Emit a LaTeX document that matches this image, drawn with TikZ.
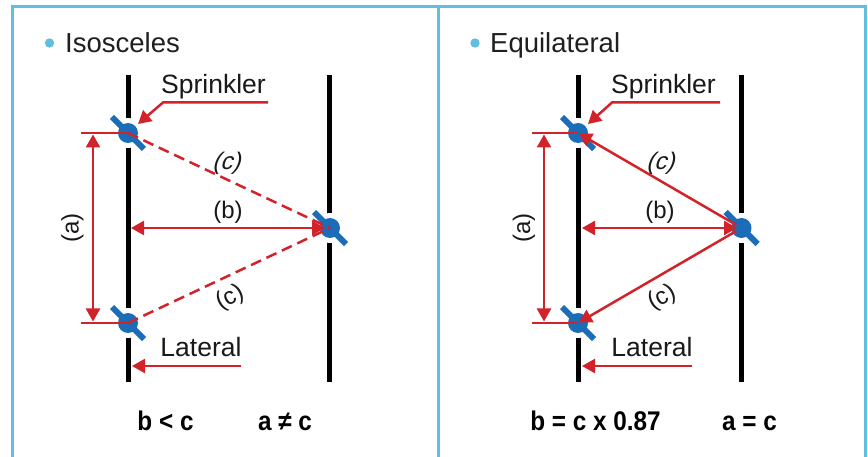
\documentclass[tikz,border=0pt]{standalone}
\usepackage{fontspec}
\setmainfont{Liberation Sans}
\usetikzlibrary{arrows.meta,calc}
\definecolor{fr}{HTML}{62BEDF}
\definecolor{rd}{HTML}{D2232A}
\definecolor{bl}{HTML}{1B6DB8}
\begin{document}
\begin{tikzpicture}[x=1pt,y=-1pt,
  frame/.style={fr,line width=3pt},
  pipe/.style={black,line width=5pt},
  redl/.style={rd,line width=2.5pt,line join=miter},
  tipr/.style={-{Triangle[length=13pt,width=14pt]}},
  tipb/.style={{Triangle[length=13pt,width=14pt]}-{Triangle[length=13pt,width=14pt]}},
  dsh/.style={dash pattern=on 11pt off 6pt},
  title/.style={font=\fontsize{27.5}{30}\selectfont,text=black!88,inner sep=0pt},
  lbl/.style={font=\fontsize{26.5}{30}\selectfont,text=black!90,inner sep=0pt},
  dim/.style={font=\fontsize{24}{28}\selectfont,text=black!90,inner sep=0pt},
  eqn/.style={font=\fontsize{27}{30}\selectfont\bfseries,text=black,inner sep=0pt},
  sprk/.pic={
    \fill[white] (0,0) circle (15);
    \draw[bl,line width=6pt] (-16,-16) -- (16,16);
    \fill[bl] (0,0) circle (10);
  }]
\useasboundingbox (0,0) rectangle (868,457);
\clip (0,0) rectangle (868,457);
\fill[white] (0,0) rectangle (868,457);

% frame
\draw[frame] (11,6.5) -- (867,6.5);
\draw[frame] (12.5,6.5) -- (12.5,460);
\draw[frame] (438.5,6.5) -- (438.5,460);
\draw[frame] (865.5,6.5) -- (865.5,460);

% titles
\fill[fr] (49.5,43) circle (4.7);
\node[title,anchor=base west] (t1) at (65,53) {Isosceles};
\fill[fr] (475,43) circle (4.7);
\node[title,anchor=base west] (t2) at (490,53) {Equilateral};

% ---------- left panel ----------
\coordinate (TL1) at (128,133);
\coordinate (BL1) at (128,323);
\coordinate (R1) at (330,228);
\coordinate (p1t) at (128,75);   \coordinate (p1b) at (128,382);
\coordinate (p2t) at (329.5,75); \coordinate (p2b) at (329.5,382);
\draw[pipe] (p1t) -- (p1b);
\draw[pipe] (p2t) -- (p2b);
\pic at (TL1) {sprk};
\pic at (BL1) {sprk};
\pic at (R1) {sprk};

\coordinate (k1a) at (81,133); \coordinate (k1b) at (81,323);
\draw[redl] (k1a) -- (TL1);
\draw[redl] (k1b) -- (BL1);
\coordinate (a1t) at (93,134.5); \coordinate (a1b) at (93,321.5);
\draw[redl,tipb] (a1t) -- (a1b);
\node[dim,rotate=90] (la1) at (72.5,228) {(a)};
\coordinate (b1l) at (131,228); \coordinate (b1r) at (325,228);
\draw[redl,tipb] (b1l) -- (b1r);
\node[dim] (lb1) at (228,212) {(b)};
\draw[redl,dsh] (TL1) -- (R1);
\draw[redl,dsh] (BL1) -- (R1);
\node[dim,xslant=0.3] (lc1) at (228,163) {(c)};
\node[dim,rotate=27] (lc1b) at (230,298) {(c)};

\node[lbl,anchor=base] (s1) at (213.5,94) {Sprinkler};
\coordinate (s1a) at (268,102.5); \coordinate (s1k) at (163,102.5); \coordinate (s1e) at (138,124);
\draw[redl,tipr] (s1a) -- (s1k) -- (s1e);
\node[lbl,anchor=base] (l1) at (201,356.5) {Lateral};
\coordinate (l1a) at (241,366); \coordinate (l1e) at (132,366);
\draw[redl,tipr] (l1a) -- (l1e);

\node[eqn,anchor=base] (e1) at (165.5,430) {\scalebox{0.9}[1]{b < c}};
\node[eqn,anchor=base] (e2) at (285,430) {\scalebox{0.9}[1]{a ≠ c}};

% ---------- right panel ----------
\coordinate (TL2) at (578,133);
\coordinate (BL2) at (578,323);
\coordinate (R2) at (741.5,228);
\coordinate (q1t) at (578,75);   \coordinate (q1b) at (578,382);
\coordinate (q2t) at (741,75);   \coordinate (q2b) at (741,382);
\draw[pipe] (q1t) -- (q1b);
\draw[pipe] (q2t) -- (q2b);
\pic at (TL2) {sprk};
\pic at (BL2) {sprk};
\pic at (R2) {sprk};

\coordinate (k2a) at (532,133); \coordinate (k2b) at (532,323);
\draw[redl] (k2a) -- (TL2);
\draw[redl] (k2b) -- (BL2);
\coordinate (a2t) at (544,134.5); \coordinate (a2b) at (544,321.5);
\draw[redl,tipb] (a2t) -- (a2b);
\node[dim,rotate=90] (la2) at (524,228) {(a)};
\coordinate (b2l) at (582,228); \coordinate (b2r) at (737,228);
\draw[redl,tipb] (b2l) -- (b2r);
\node[dim] (lb2) at (660,212) {(b)};
\draw[redl,tipr,shorten <=6pt,shorten >=1pt] (R2) -- (TL2);
\draw[redl,tipr,shorten <=6pt,shorten >=1pt] (R2) -- (BL2);
\node[dim,xslant=0.3] (lc2) at (662,163) {(c)};
\node[dim,rotate=27] (lc2b) at (662,298) {(c)};

\node[lbl,anchor=base] (s2) at (663.5,94) {Sprinkler};
\coordinate (s2a) at (720,102.5); \coordinate (s2k) at (612,102.5); \coordinate (s2e) at (588,124);
\draw[redl,tipr] (s2a) -- (s2k) -- (s2e);
\node[lbl,anchor=base] (l2) at (652,356.5) {Lateral};
\coordinate (l2a) at (692,366); \coordinate (l2e) at (582,366);
\draw[redl,tipr] (l2a) -- (l2e);

\node[eqn,anchor=base] (e3) at (595.5,430) {\scalebox{0.9}[1]{b = c x 0.87}};
\node[eqn,anchor=base] (e4) at (749.5,430) {\scalebox{0.9}[1]{a = c}};
\end{tikzpicture}
\end{document}
